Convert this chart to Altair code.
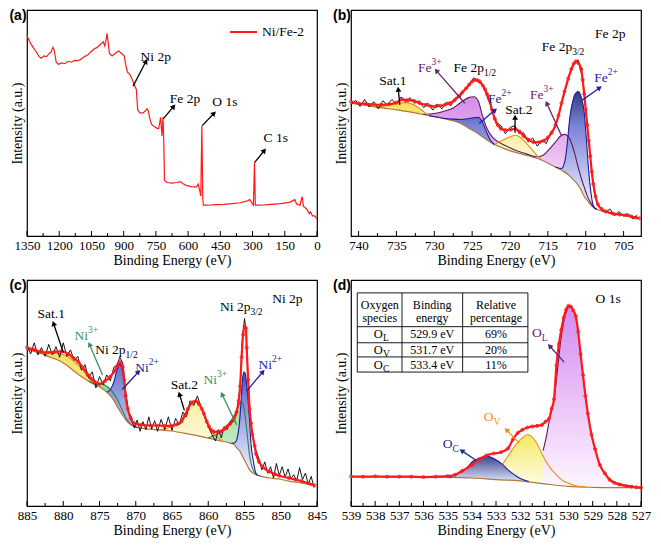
import math
import altair as alt
import pandas as pd

SERIF = "Times New Roman, Liberation Serif, DejaVu Serif, serif"
SANS = "Liberation Sans, Arial, DejaVu Sans, sans-serif"
W, H = 290, 226

RED = "#ff1a1a"
BLACK = "#000000"
BG_COL = "#b0783c"
BLUE_L = "#1c1c9c"
PURP_L = "#5b1c5b"
SAT_L = "#e88a1a"
GREEN_L = "#2f7f4f"
ORANGE = "#f0901c"
LBL_BLUE = "#23239a"
LBL_PURP = "#6a2470"
LBL_GREEN = "#3e9060"
LBL_OC = "#1c2a8c"
LBL_OL = "#5a1f78"

# ---------------------------------------------------------------- (a) survey
SURVEY_BE = [1350, 1339, 1329, 1317, 1306, 1294, 1284, 1272, 1259, 1249,
             1238, 1229, 1223, 1214, 1204, 1188, 1173, 1158, 1143, 1128,
             1113, 1098, 1083, 1068, 1053, 1037, 1022, 1007, 995, 988,
             982, 977, 973, 966, 954, 939, 924, 909, 897, 891,
             882, 871, 861, 852, 844, 841, 835, 826, 811, 800,
             791, 785, 779, 770, 758, 746, 737, 728, 722, 717,
             713, 710, 698, 675, 652, 637, 625, 607, 584, 562,
             553, 547, 541, 536, 532, 529, 509, 471, 433, 396,
             358, 328, 313, 302, 296, 291, 287, 260, 214, 169,
             124, 104, 94, 79, 69, 63, 48, 36, 30, 21,
             11, 0]
SURVEY_INT = [917, 900, 888, 875, 865, 850, 845, 852, 850, 858,
              865, 880, 870, 832, 825, 830, 828, 835, 832, 838,
              837, 842, 850, 855, 865, 875, 880, 890, 898, 885,
              905, 925, 900, 860, 852, 860, 868, 860, 852, 825,
              800, 792, 778, 762, 748, 745, 680, 670, 668, 675,
              682, 675, 652, 632, 625, 620, 618, 655, 595, 655,
              570, 452, 445, 443, 445, 448, 442, 435, 432, 430,
              440, 422, 402, 628, 395, 372, 372, 374, 375, 377,
              380, 385, 390, 378, 372, 510, 372, 372, 375, 377,
              382, 390, 375, 372, 400, 368, 360, 345, 350, 338,
              338, 328]
SURVEY_NAME = "Ni/Fe-2"

# ---------------------------------------------------------------- (b) Fe 2p
FE_RAW = [(741.0, 695), (740.4, 710), (739.8, 690), (739.2, 712), (738.6, 688), (738.0, 705),
          (737.4, 682), (736.8, 708), (736.2, 695), (735.6, 712), (735.0, 698), (734.4, 720),
          (733.8, 704), (733.2, 718), (732.6, 700), (732.0, 708), (731.4, 686), (730.8, 700),
          (730.2, 678), (729.6, 698), (729.0, 682), (728.4, 704), (727.8, 692), (727.2, 718),
          (726.6, 720), (726.0, 745), (725.4, 755), (724.8, 782), (724.2, 768), (723.6, 760),
          (723.0, 720), (722.4, 682), (721.8, 632), (721.2, 628), (720.6, 602), (720.0, 622),
          (719.4, 628), (718.8, 602), (718.2, 605), (717.6, 575), (717.0, 588), (716.4, 562),
          (715.8, 582), (715.2, 570), (714.6, 608), (714.0, 622), (713.4, 678), (712.8, 732),
          (712.2, 788), (711.6, 822), (711.0, 840), (710.4, 778), (709.8, 628), (709.2, 475),
          (708.6, 388), (708.0, 360), (707.4, 348), (706.8, 360), (706.2, 338), (705.6, 352),
          (705.0, 336), (704.4, 345), (703.8, 328), (703.2, 340)]
FE_ENV = [(741.0, 705), (740.0, 700), (739.0, 698), (738.0, 696), (737.0, 695), (736.0, 697),
          (735.0, 702), (734.2, 712), (733.5, 710), (732.7, 708), (731.9, 700), (731.1, 695),
          (730.4, 690), (729.8, 690), (729.2, 692), (728.6, 695), (728.0, 700), (727.3, 710),
          (726.8, 722), (726.3, 735), (725.8, 748), (725.4, 760), (725.0, 770), (724.6, 775),
          (724.3, 774), (724.0, 770), (723.6, 757), (723.3, 745), (723.0, 728), (722.7, 710),
          (722.4, 680), (722.0, 650), (721.6, 630), (721.2, 618), (720.6, 614), (719.9, 615),
          (719.3, 618), (718.7, 608), (718.2, 595), (717.5, 582), (716.9, 575), (716.1, 575),
          (715.5, 580), (715.0, 590), (714.5, 605), (714.0, 630), (713.6, 660), (713.2, 700),
          (712.8, 738), (712.3, 780), (711.9, 810), (711.6, 827), (711.3, 835), (711.0, 830),
          (710.6, 810), (710.4, 775), (710.2, 730), (710.0, 680), (709.8, 630), (709.6, 580),
          (709.4, 530), (709.2, 480), (709.0, 440), (708.7, 400), (708.4, 375), (707.9, 360),
          (707.3, 352), (706.4, 345), (705.5, 342), (704.7, 340), (704.0, 336), (703.4, 332),
          (702.9, 330)]
FE_BG = [(741.0, 700), (739.0, 693), (736.9, 685), (734.8, 678), (732.7, 670), (730.7, 660),
         (728.6, 650), (726.5, 635), (725.4, 619), (724.4, 605), (723.4, 588), (722.3, 570),
         (721.3, 560), (720.3, 550), (718.2, 535), (716.1, 520), (714.0, 495), (713.0, 482),
         (712.3, 470), (711.6, 453), (711.1, 440), (710.6, 420), (710.2, 400), (709.8, 388),
         (709.4, 375), (708.9, 364), (708.5, 358), (707.3, 350), (704.7, 340), (702.9, 330)]
# components: (binding energy, component top, baseline)
FE3 = [[(731.5, 664, 664), (730.0, 667, 657), (728.6, 675, 650), (727.5, 685, 643), (726.9, 695, 639),
        (726.2, 708, 631), (725.4, 719, 619), (724.8, 721, 611), (724.2, 708, 602), (723.7, 665, 593),
        (723.1, 622, 583), (722.3, 590, 570), (721.3, 572, 560), (720.3, 560, 550), (719.2, 548, 542),
        (718.2, 540, 535), (717.2, 532, 528), (716.5, 528, 523), (715.7, 532, 516), (714.9, 550, 506),
        (714.0, 575, 495), (713.4, 593, 487), (712.8, 600, 478), (712.1, 585, 467), (711.5, 542, 451),
        (711.0, 495, 437), (710.6, 460, 420), (710.2, 430, 400), (709.8, 402, 388), (709.4, 382, 375),
        (709.0, 367, 366), (708.5, 358, 358)]]
FE2 = [[(730.7, 660, 660), (729.5, 655, 654), (728.6, 651, 650), (727.5, 649, 643), (726.5, 648, 635),
        (725.4, 651, 619), (724.6, 654, 608), (724.2, 655, 602), (723.7, 642, 593), (723.1, 607, 583),
        (722.6, 582, 575), (722.0, 567, 567)],
       [(714.0, 495, 495), (713.2, 490, 484), (712.7, 520, 476), (712.4, 580, 471), (712.1, 655, 467),
        (711.7, 708, 455), (711.4, 730, 448), (711.0, 738, 437), (710.6, 720, 420), (710.2, 670, 400),
        (709.9, 580, 391), (709.6, 480, 382), (709.3, 410, 372), (709.0, 370, 366), (708.6, 359, 359)]]
FE_SAT = [[(739.5, 695, 695), (738.5, 692, 691), (737.5, 690, 687), (736.5, 691, 684), (735.5, 696, 680),
           (734.5, 701, 677), (733.8, 702, 674), (733.0, 698, 671), (732.2, 688, 668), (731.4, 673, 664),
           (730.8, 661, 661)],
          [(722.0, 567, 567), (721.5, 575, 562), (720.6, 585, 553), (719.9, 593, 548), (719.3, 597, 543),
           (718.6, 590, 538), (717.8, 570, 532), (716.9, 545, 527), (716.3, 528, 523), (715.8, 518, 518)]]

# ---------------------------------------------------------------- (c) Ni 2p
NI_RAW = [(885.0, 780), (884.5, 755), (884.0, 790), (883.5, 752), (883.0, 775), (882.5, 748),
          (882.0, 785), (881.5, 752), (881.0, 778), (880.5, 745), (880.0, 790), (879.5, 748),
          (879.0, 768), (878.5, 735), (878.0, 748), (877.5, 705), (877.0, 722), (876.5, 680),
          (876.0, 700), (875.5, 650), (875.0, 685), (874.5, 660), (874.0, 690), (873.5, 672),
          (873.0, 715), (872.6, 720), (872.2, 745), (871.8, 728), (871.4, 640), (871.0, 575),
          (870.6, 560), (870.2, 525), (869.8, 550), (869.4, 515), (869.0, 545), (868.6, 520),
          (868.2, 560), (867.8, 522), (867.4, 548), (867.0, 515), (866.5, 552), (866.0, 520),
          (865.5, 560), (865.0, 518), (864.5, 555), (864.0, 535), (863.5, 575), (863.0, 560),
          (862.5, 610), (862.0, 595), (861.5, 625), (861.0, 590), (860.5, 560), (860.0, 530),
          (859.5, 505), (859.0, 485), (858.6, 520), (858.2, 495), (857.8, 530), (857.4, 520),
          (857.0, 545), (856.5, 548), (856.0, 575), (855.6, 660), (855.3, 800), (855.0, 865),
          (854.8, 830), (854.5, 680), (854.2, 560), (853.9, 500), (853.5, 460), (853.0, 430),
          (852.6, 395), (852.2, 420), (851.8, 385), (851.4, 405), (851.0, 370), (850.6, 415),
          (850.2, 378), (849.8, 405), (849.4, 372), (849.0, 398), (848.6, 368), (848.2, 380),
          (847.8, 360), (847.4, 402), (847.0, 365), (846.6, 385), (846.2, 350), (845.8, 375),
          (845.4, 340)]
NI_ENV = [(885.0, 775), (884.0, 768), (883.0, 762), (882.2, 760), (881.2, 762), (880.3, 763),
          (879.3, 755), (878.6, 743), (877.9, 730), (877.2, 710), (876.6, 690), (876.1, 678),
          (875.7, 670), (875.0, 662), (874.3, 670), (873.5, 685), (873.0, 700), (872.5, 720),
          (872.2, 730), (871.8, 715), (871.6, 675), (871.4, 625), (871.1, 585), (870.7, 555),
          (870.2, 540), (869.3, 535), (868.0, 533), (867.1, 533), (866.0, 532), (865.1, 532),
          (864.3, 537), (863.7, 545), (863.2, 565), (862.8, 585), (862.2, 605), (861.7, 609),
          (861.3, 600), (860.9, 585), (860.6, 570), (860.2, 545), (859.9, 530), (859.5, 518),
          (859.2, 513), (858.7, 513), (858.3, 515), (857.8, 522), (857.4, 530), (857.0, 538),
          (856.5, 550), (856.1, 575), (855.8, 610), (855.6, 655), (855.4, 745), (855.2, 815),
          (855.0, 840), (854.8, 835), (854.7, 775), (854.5, 675), (854.3, 585), (854.1, 540),
          (853.9, 505), (853.6, 470), (853.4, 445), (853.0, 420), (852.5, 405), (851.6, 390),
          (850.8, 382), (850.2, 377), (848.9, 370), (848.0, 365), (847.1, 360), (846.2, 354),
          (845.3, 347)]
NI_BG = [(885.0, 770), (884.0, 763), (882.9, 755), (881.8, 745), (880.6, 735), (879.5, 720),
         (878.4, 700), (877.3, 682), (876.1, 665), (874.8, 650), (873.9, 635), (873.0, 610),
         (872.5, 590), (872.1, 575), (871.6, 558), (871.2, 545), (870.7, 536), (870.2, 530),
         (869.0, 524), (867.1, 520), (865.1, 516), (862.8, 507), (860.6, 497), (858.3, 485),
         (857.2, 480), (856.5, 475), (856.0, 462), (855.6, 452), (855.3, 438), (855.0, 425),
         (854.6, 408), (854.3, 395), (853.8, 385), (853.4, 380), (852.5, 374), (851.6, 370),
         (850.0, 366), (848.9, 360), (847.0, 354), (845.3, 345)]
NI_SAT = [[(885.0, 770, 770), (884.0, 766, 763), (882.9, 760, 755), (881.8, 758, 745), (880.6, 757, 735),
           (879.5, 748, 720), (878.4, 730, 700), (877.3, 705, 682), (876.6, 685, 673), (876.1, 670, 665),
           (875.5, 657, 657)],
          [(867.0, 520, 520), (866.0, 522, 518), (865.1, 530, 516), (864.3, 538, 513), (863.7, 550, 510),
           (863.2, 570, 508), (862.8, 585, 507), (862.4, 600, 505), (862.0, 607, 503), (861.6, 608, 502),
           (861.2, 602, 500), (860.8, 580, 498), (860.4, 555, 496), (860.1, 538, 495), (859.7, 520, 493),
           (859.2, 505, 490), (858.6, 495, 487), (858.0, 484, 484)]]
NI3 = [[(876.5, 671, 671), (875.5, 662, 657), (874.8, 664, 650), (874.0, 655, 636), (873.3, 640, 618),
        (872.6, 617, 594), (872.0, 588, 572), (871.3, 555, 548), (870.5, 533, 533)],
       [(860.0, 494, 494), (859.2, 502, 490), (858.3, 512, 485), (857.4, 532, 480), (856.8, 550, 477),
        (856.2, 575, 468), (855.8, 595, 458), (855.5, 607, 448), (855.2, 600, 434), (854.9, 560, 420),
        (854.6, 500, 408), (854.3, 440, 395), (853.9, 400, 387), (853.4, 382, 380), (852.8, 376, 376)]]
NI2 = [[(874.0, 636, 636), (873.5, 645, 625), (873.0, 670, 610), (872.6, 705, 595), (872.2, 723, 577),
        (871.9, 710, 567), (871.6, 670, 558), (871.3, 615, 548), (871.0, 575, 542), (870.6, 548, 535),
        (870.2, 532, 530), (869.8, 527, 527)],
       [(856.8, 477, 477), (856.3, 480, 472), (856.0, 495, 462), (855.7, 540, 455), (855.5, 600, 448),
        (855.3, 670, 438), (855.1, 700, 431), (854.9, 695, 420), (854.7, 660, 412), (854.5, 610, 404),
        (854.3, 545, 395), (854.1, 475, 390), (853.8, 425, 385), (853.5, 390, 381), (853.2, 378, 378)]]

# ---------------------------------------------------------------- (d) O 1s
O_ENV = [(539.0, 375), (538.5, 374), (538.0, 375), (537.5, 374), (537.0, 374), (536.5, 374),
         (536.0, 373), (535.5, 374), (535.0, 376), (534.7, 380), (534.4, 392), (534.0, 410),
         (533.7, 428), (533.4, 440), (533.1, 446), (532.8, 450), (532.5, 462), (532.3, 490),
         (532.1, 510), (531.9, 520), (531.7, 527), (531.5, 530), (531.3, 532), (531.1, 535),
         (530.95, 545), (530.8, 555), (530.7, 585), (530.6, 615), (530.5, 720), (530.4, 785),
         (530.3, 830), (530.2, 868), (530.1, 893), (530.0, 905), (529.9, 902), (529.8, 890),
         (529.7, 873), (529.6, 825), (529.5, 755), (529.4, 690), (529.3, 625), (529.2, 570),
         (529.05, 505), (528.9, 460), (528.7, 410), (528.5, 385), (528.3, 365), (528.1, 355),
         (527.9, 350), (527.6, 345), (527.4, 343), (527.2, 341), (527.0, 340)]
O_BG = [(539.0, 374), (537.0, 373), (535.3, 372), (534.0, 370), (533.0, 365), (532.0, 361),
        (531.0, 352), (530.0, 344), (529.0, 341), (528.0, 340), (527.0, 340)]
O_C = [[(534.95, 371, 371), (534.6, 382, 370), (534.3, 395, 370), (533.9, 425, 369), (533.6, 434, 368),
        (533.43, 438, 367), (533.2, 434, 366), (532.97, 425, 365), (532.7, 410, 364), (532.5, 395, 363),
        (532.2, 378, 362), (532.04, 370, 361), (531.64, 359, 359)]]
O_V = [[(532.77, 407, 365), (532.6, 427, 364), (532.44, 445, 363), (532.2, 472, 362), (532.04, 485, 361),
        (531.85, 498, 360), (531.7, 505, 359), (531.55, 500, 357), (531.37, 485, 356), (531.2, 462, 354),
        (531.1, 445, 353), (530.84, 410, 350), (530.57, 385, 348), (530.3, 365, 346), (530.05, 355, 344),
        (529.65, 345, 342), (529.3, 342, 342)]]
O_L = [[(531.05, 455, 353), (530.9, 505, 351), (530.78, 555, 350), (530.6, 610, 348), (530.47, 695, 347),
        (530.34, 785, 346), (530.17, 865, 345), (530.05, 895, 344), (529.95, 903, 344), (529.85, 898, 343),
        (529.76, 885, 343), (529.62, 835, 343), (529.5, 755, 342), (529.3, 625, 342), (529.1, 525, 341),
        (528.83, 440, 341), (528.57, 390, 340), (528.17, 360, 340), (527.77, 350, 340), (527.24, 343, 340),
        (527.04, 341, 340)]]

TABLE_HEAD = [("Oxygen", "species"), ("Binding", "energy"), ("Relative", "percentage")]
TABLE_SPECIES = ["L", "V", "C"]
TABLE_BE = ["529.9 eV", "531.7 eV", "533.4 eV"]
TABLE_PCT = ["69%", "20%", "11%"]

# ---------------------------------------------------------------- annotations
A_ARROWS = [(856, 755, 796, 835, BLACK), (716, 650, 667, 690, BLACK),
            (534.5, 628, 479, 668, BLACK), (290, 510, 245, 548, BLACK)]
A_CENTER = [(750.5, 850, "Ni 2p", BLACK), (614.6, 715, "Fe 2p", BLACK),
            (428.9, 703, "O 1s", BLACK), (191.8, 588, "C 1s", BLACK)]

B_ARROWS = [(710.45, 710, 708.15, 750, LBL_BLUE), (713.18, 595, 715.15, 700, LBL_PURP),
            (719.33, 605, 719.33, 655, BLACK), (724.07, 635, 721.98, 678, LBL_BLUE),
            (725.96, 700, 729.73, 805, LBL_PURP), (734.55, 695, 734.76, 745, BLACK)]
B_CENTER = [(706.76, 922, "Fe 2p", BLACK), (735.47, 772, "Sat.1", BLACK), (718.83, 678, "Sat.2", BLACK)]
B_RIGHT = [(711.79, 880, "Fe 2p", BLACK), (723.44, 815, "Fe 2p", BLACK), (707.1, 782, "Fe", LBL_BLUE),
           (715.57, 728, "Fe", LBL_PURP), (721.14, 715, "Fe", LBL_BLUE), (730.36, 815, "Fe", LBL_PURP)]
B_SUB = [(711.79, 880, "3/2", BLACK), (723.44, 815, "1/2", BLACK)]
B_SUP = [(707.1, 782, "2+", LBL_BLUE), (715.57, 728, "3+", LBL_PURP),
         (721.14, 715, "2+", LBL_BLUE), (730.36, 815, "3+", LBL_PURP)]

C_ARROWS = [(854.72, 640, 852.46, 700, LBL_BLUE), (856.08, 535, 858.1, 630, LBL_GREEN),
            (863.29, 580, 863.97, 630, BLACK), (871.87, 645, 869.61, 700, LBL_BLUE),
            (874.58, 690, 876.38, 785, LBL_GREEN), (879.99, 760, 881.34, 850, BLACK)]
C_CENTER = [(849.08, 925, "Ni 2p", BLACK), (863.3, 660, "Sat.2", BLACK), (881.66, 880, "Sat.1", BLACK)]
C_RIGHT = [(854.18, 900, "Ni 2p", BLACK), (851.2, 720, "Ni", LBL_BLUE), (858.78, 675, "Ni", LBL_GREEN),
           (868.2, 712, "Ni", LBL_BLUE), (871.4, 768, "Ni 2p", BLACK), (876.6, 810, "Ni", LBL_GREEN)]
C_SUB = [(854.18, 900, "3/2", BLACK), (871.4, 768, "1/2", BLACK)]
C_SUP = [(851.2, 720, "2+", LBL_BLUE), (858.78, 675, "3+", LBL_GREEN),
         (868.2, 712, "2+", LBL_BLUE), (876.6, 810, "3+", LBL_GREEN)]

D_ARROWS = [(530.18, 730, 530.78, 780, LBL_OL), (532.06, 480, 532.57, 520, ORANGE),
            (533.83, 425, 534.42, 455, LBL_OC)]
D_CENTER = [(528.36, 925, "O 1s", BLACK)]
D_RIGHT = [(531.11, 820, "O", LBL_OL), (533.1, 560, "O", ORANGE), (534.8, 475, "O", LBL_OC)]
D_SUB = [(531.11, 820, "L", LBL_OL), (533.1, 560, "V", ORANGE), (534.8, 475, "C", LBL_OC)]
# table geometry (in the panel's data coordinates)
TBL_X = [538.74, 536.89, 534.38, 531.68]
TBL_Y = [945, 840, 790, 746, 699]
TBL_COL_C = [537.81, 535.64, 533.0]
TBL_JUNC = 537.68
TBL_HEAD_Y = [908.5, 865.7]
TBL_ROW_Y = [815.8, 768.8, 721.0]

A_MAJOR = [1350, 1200, 1050, 900, 750, 600, 450, 300, 150, 0]
A_MINOR = [1275, 1125, 975, 825, 675, 525, 375, 225, 75]
B_MAJOR = [740, 735, 730, 725, 720, 715, 710, 705]
B_MINOR = [737.5, 732.5, 727.5, 722.5, 717.5, 712.5, 707.5]
C_MAJOR = [885, 880, 875, 870, 865, 860, 855, 850, 845]
C_MINOR = [882.5, 877.5, 872.5, 867.5, 862.5, 857.5, 852.5, 847.5]
D_MAJOR = [539, 538, 537, 536, 535, 534, 533, 532, 531, 530, 529, 528, 527]
D_MINOR = [538.5, 537.5, 536.5, 535.5, 534.5, 533.5, 532.5, 531.5, 530.5, 529.5, 528.5, 527.5]

BLUE_STOPS = [("#2e3c80", 0.0), ("#7c84d8", 0.3), ("#f6f6ff", 1.0)]
BLUE_SOFT_STOPS = [("#6472c8", 0.0), ("#c4caf0", 1.0)]
PURPLE_STOPS = [("#d68ce8", 0.0), ("#fbeffd", 1.0)]
YELLOW_STOPS = [("#f2e05a", 0.0), ("#fff9dc", 1.0)]
GREEN_STOPS = [("#8bd88b", 0.0), ("#dcf5dc", 1.0)]
OL_STOPS = [("#d58af0", 0.0), ("#fdf6ff", 1.0)]
OV_STOPS = [("#f3ea62", 0.0), ("#fffcec", 1.0)]
OC_STOPS = [("#3a4590", 0.0), ("#dfe3f5", 1.0)]


def grad(stops, y1, y2):
    return alt.Gradient(gradient="linear",
                        stops=[alt.GradientStop(color=c, offset=o) for c, o in stops],
                        x1=0.5, x2=0.5, y1=y1, y2=y2)


def panel(letter, xdom, ydom, major, minor, fills=(), bg=None, raw=None, raw_color=BLACK,
          raw_width=0.9, env=None, arrows=(), center=(), right=(), sup=(), sub=(), extra_fn=None):
    lo, hi = xdom
    ylo, yhi = ydom
    xs = alt.Scale(domain=[lo, hi], reverse=True, nice=False, zero=False)
    ys = alt.Scale(domain=[ylo, yhi], nice=False, zero=False)
    xax = alt.Axis(values=major, format="d", title="Binding Energy (eV)",
                   labelOverlap=False, labelFlush=False, ticks=False, domain=False, grid=False,
                   labelFont=SERIF, labelFontSize=13, labelColor="black", labelPadding=3,
                   titleFont=SERIF, titleFontSize=14, titleFontWeight="normal", titleColor="black",
                   titlePadding=1)
    yax = alt.Axis(title="Intensity (a.u.)", labels=False, ticks=False, domain=False, grid=False,
                   titleFont=SERIF, titleFontSize=14, titleFontWeight="normal", titleColor="black",
                   titlePadding=3)

    def X(f):
        return alt.X(f + ":Q", scale=xs, axis=xax)

    def Y(f):
        return alt.Y(f + ":Q", scale=ys, axis=yax)

    def px(v):
        return (hi - v) / (hi - lo) * W

    def py(v):
        return H - (v - ylo) / (yhi - ylo) * H

    layers = []
    comp_lines = []
    for peaks, stops, lcol, *override in fills:
        smax = max(t for pk in peaks for (_, t, _) in pk)
        smin = min(s for pk in peaks for (_, _, s) in pk)
        own = override[0] if override else {}
        for k, pk in enumerate(peaks):
            pmax = max(t for (_, t, _) in pk)
            pmin = min(s for (_, _, s) in pk)
            span = max(pmax - pmin, 1e-6)
            if k in own:
                g = grad(own[k], 0, 1)
            else:
                g = grad(stops, (pmax - smax) / span, (pmax - smin) / span)
            df = pd.DataFrame(pk, columns=["be", "top", "base"])
            layers.append(alt.Chart(df).mark_area(color=g, interpolate="monotone")
                          .encode(x=X("be"), y=Y("top"), y2="base:Q"))
            comp_lines.append((df, lcol))
    if bg is not None:
        dfb = pd.DataFrame(bg, columns=["be", "int"])
        layers.append(alt.Chart(dfb).mark_line(color=BG_COL, strokeWidth=1.2, interpolate="monotone")
                      .encode(x=X("be"), y=Y("int")))
    for df, lcol in comp_lines:
        layers.append(alt.Chart(df).mark_line(color=lcol, strokeWidth=1.1, interpolate="monotone")
                      .encode(x=X("be"), y=Y("top")))
    if raw is not None:
        dfr = pd.DataFrame(raw, columns=["be", "int"])
        layers.append(alt.Chart(dfr).mark_line(color=raw_color, strokeWidth=raw_width)
                      .encode(x=X("be"), y=Y("int")))
    if env is not None:
        dfe = pd.DataFrame(env, columns=["be", "int"])
        layers.append(alt.Chart(dfe).mark_line(color=RED, strokeWidth=2.2, interpolate="monotone")
                      .encode(x=X("be"), y=Y("int")))
        layers.append(alt.Chart(dfe).mark_point(shape="circle", filled=False, size=9, color=RED,
                                                strokeWidth=0.9, opacity=1)
                      .encode(x=X("be"), y=Y("int")))
    if extra_fn is not None:
        layers.extend(extra_fn(X, Y))
    if arrows:
        rows = []
        for (x1, y1, x2, y2, c) in arrows:
            dx = px(x2) - px(x1)
            dy = py(y2) - py(y1)
            ang = math.degrees(math.atan2(dx, -dy)) % 360
            rows.append({"x1": x1, "y1": y1, "x2": x2, "y2": y2, "c": c, "ang": ang})
        dfa = pd.DataFrame(rows)
        layers.append(alt.Chart(dfa).mark_rule(strokeWidth=1.3)
                      .encode(x=X("x1"), y=Y("y1"), x2="x2:Q", y2="y2:Q",
                              color=alt.Color("c:N", scale=None)))
        layers.append(alt.Chart(dfa).mark_point(shape="triangle-up", filled=True, size=34, opacity=1)
                      .encode(x=X("x2"), y=Y("y2"), angle=alt.Angle("ang:Q", scale=None),
                              color=alt.Color("c:N", scale=None)))

    def txt(rows, align, size, dy):
        df = pd.DataFrame(rows, columns=["x", "y", "t", "c"])
        return (alt.Chart(df).mark_text(align=align, baseline="middle", font=SERIF, fontSize=size, dy=dy)
                .encode(x=X("x"), y=Y("y"), text="t:N", color=alt.Color("c:N", scale=None)))

    if center:
        layers.append(txt(center, "center", 13.5, 0))
    if right:
        layers.append(txt(right, "right", 13.5, 0))
    if sup:
        layers.append(txt(sup, "left", 9.5, -6))
    if sub:
        layers.append(txt(sub, "left", 9.5, 5))
    layers.append(alt.Chart(pd.DataFrame({"t": major})).mark_rule(color="black", strokeWidth=1)
                  .encode(x=X("t"), y=alt.value(H), y2=alt.value(H - 5)))
    layers.append(alt.Chart(pd.DataFrame({"t": minor})).mark_rule(color="black", strokeWidth=1)
                  .encode(x=X("t"), y=alt.value(H), y2=alt.value(H - 3)))
    layers.append(alt.Chart(pd.DataFrame({"t": [letter]}))
                  .mark_text(font=SANS, fontWeight="bold", fontSize=14, align="center", baseline="middle")
                  .encode(x=alt.value(-9), y=alt.value(6), text="t:N"))
    return alt.layer(*layers).properties(width=W, height=H)


def survey_legend(X, Y):
    df = pd.DataFrame({"t": [SURVEY_NAME]})
    return [
        alt.Chart(df).mark_rule(color=RED, strokeWidth=2).encode(
            x=alt.value(W - 87), x2=alt.value(W - 60), y=alt.value(22)),
        alt.Chart(df).mark_text(font=SERIF, fontSize=13.5, align="left", baseline="middle").encode(
            x=alt.value(W - 55), y=alt.value(22), text="t:N"),
    ]


def o_table(X, Y):
    out = []
    box = pd.DataFrame({"x1": [TBL_X[0]], "x2": [TBL_X[-1]], "y1": [TBL_Y[0]], "y2": [TBL_Y[-1]]})
    out.append(alt.Chart(box).mark_rect(fill="white", stroke="black", strokeWidth=0.9)
               .encode(x=X("x1"), x2="x2:Q", y=Y("y1"), y2="y2:Q"))
    vl = pd.DataFrame({"x1": TBL_X[1:3], "x2": TBL_X[1:3], "y1": [TBL_Y[0]] * 2, "y2": [TBL_Y[-1]] * 2})
    hl = pd.DataFrame({"x1": [TBL_X[0]] * 3, "x2": [TBL_X[-1]] * 3, "y1": TBL_Y[1:4], "y2": TBL_Y[1:4]})
    for d in (vl, hl):
        out.append(alt.Chart(d).mark_rule(color="black", strokeWidth=0.9)
                   .encode(x=X("x1"), x2="x2:Q", y=Y("y1"), y2="y2:Q"))
    rows = []
    for ci, (l1, l2) in enumerate(TABLE_HEAD):
        rows.append((TBL_COL_C[ci], TBL_HEAD_Y[0], l1))
        rows.append((TBL_COL_C[ci], TBL_HEAD_Y[1], l2))
    for ri in range(3):
        rows.append((TBL_COL_C[1], TBL_ROW_Y[ri], TABLE_BE[ri]))
        rows.append((TBL_COL_C[2], TBL_ROW_Y[ri], TABLE_PCT[ri]))
    dft = pd.DataFrame(rows, columns=["x", "y", "t"])
    out.append(alt.Chart(dft).mark_text(font=SERIF, fontSize=12, align="center", baseline="middle")
               .encode(x=X("x"), y=Y("y"), text="t:N"))
    dfo = pd.DataFrame({"x": [TBL_JUNC] * 3, "y": TBL_ROW_Y, "t": ["O"] * 3, "s": TABLE_SPECIES})
    out.append(alt.Chart(dfo).mark_text(font=SERIF, fontSize=12.5, align="right", baseline="middle")
               .encode(x=X("x"), y=Y("y"), text="t:N"))
    out.append(alt.Chart(dfo).mark_text(font=SERIF, fontSize=9.5, align="left", baseline="middle", dy=4)
               .encode(x=X("x"), y=Y("y"), text="s:N"))
    return out


pa = panel("(a)", (0, 1350), (273, 1000), A_MAJOR, A_MINOR,
           raw=list(zip(SURVEY_BE, SURVEY_INT)), raw_color=RED, raw_width=1.2,
           arrows=A_ARROWS, center=A_CENTER, extra_fn=survey_legend)

pb = panel("(b)", (702.7, 741), (273, 1000), B_MAJOR, B_MINOR,
           fills=[(FE3, PURPLE_STOPS, PURP_L),
                  (FE2, BLUE_STOPS, BLUE_L),
                  (FE_SAT, YELLOW_STOPS, SAT_L)],
           bg=FE_BG, raw=FE_RAW, env=FE_ENV, arrows=B_ARROWS,
           center=B_CENTER, right=B_RIGHT, sup=B_SUP, sub=B_SUB)

pc = panel("(c)", (845, 885), (283, 985), C_MAJOR, C_MINOR,
           fills=[(NI_SAT, YELLOW_STOPS, SAT_L),
                  (NI3, GREEN_STOPS, GREEN_L),
                  (NI2, BLUE_STOPS, BLUE_L, {0: BLUE_SOFT_STOPS})],
           bg=NI_BG, raw=NI_RAW, env=NI_ENV, arrows=C_ARROWS,
           center=C_CENTER, right=C_RIGHT, sup=C_SUP, sub=C_SUB)

pd_ = panel("(d)", (527, 539), (283, 985), D_MAJOR, D_MINOR,
            fills=[(O_V, OV_STOPS, ORANGE),
                   (O_L, OL_STOPS, PURP_L),
                   (O_C, OC_STOPS, BLUE_L)],
            bg=O_BG, env=O_ENV, arrows=D_ARROWS,
            center=D_CENTER, right=D_RIGHT, sub=D_SUB, extra_fn=o_table)

chart = (alt.concat(pa, pb, pc, pd_, columns=2, spacing={"row": 10, "column": 4})
         .properties(padding={"left": 0, "right": 0, "top": 0, "bottom": 0}, background="white")
         .configure_view(stroke="black", strokeWidth=1.2)
         .configure_axis(labelFont=SERIF, titleFont=SERIF, titleFontWeight="normal"))

chart.save("out.html", embed_options={"renderer": "svg", "actions": False})
